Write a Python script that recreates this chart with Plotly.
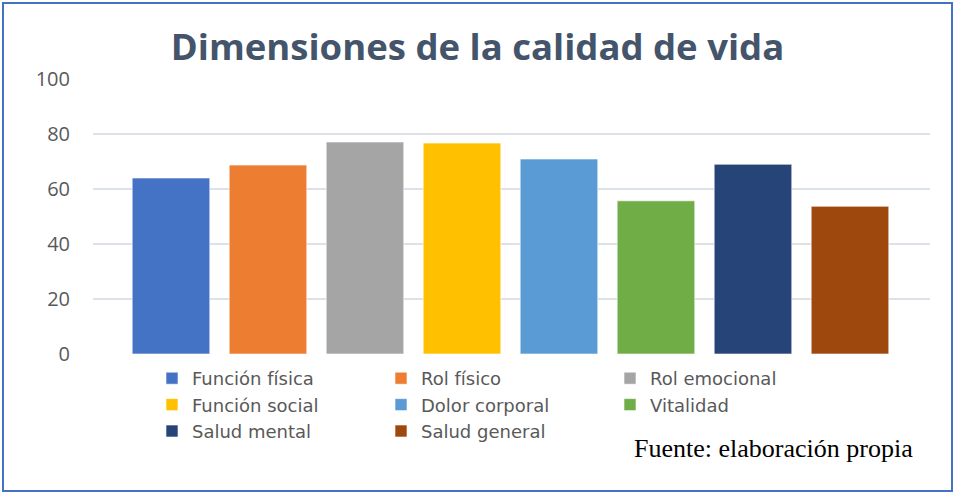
import plotly.graph_objects as go

# dimensiones de calidad de vida (SF-36)
dimensiones = ['Función física', 'Rol físico', 'Rol emocional', 'Función social',
               'Dolor corporal', 'Vitalidad', 'Salud mental', 'Salud general']
puntajes = [64, 68.7, 77.1, 76.7, 70.9, 55.7, 69, 53.7]
colores = ['#4472C4', '#ED7D31', '#A5A5A5', '#FFC000',
           '#5B9BD5', '#70AD47', '#264478', '#9E480E']
y_ticks = [0, 20, 40, 60, 80, 100]

W, H = 955, 494
ml, mr, mt, mb = 93, 25, 79, 140
pw, ph = W - ml - mr, H - mt - mb

fig = go.Figure()
for nombre, valor, col in zip(dimensiones, puntajes, colores):
    fig.add_trace(go.Bar(x=[nombre], y=[valor], name=nombre,
                         marker=dict(color=col, line=dict(color='rgba(255,255,255,0.6)', width=1)),
                         width=0.8))

fig.update_layout(
    width=W, height=H,
    margin=dict(l=ml, r=mr, t=mt, b=mb, autoexpand=False),
    paper_bgcolor='white', plot_bgcolor='white',
    barmode='overlay',
    title=dict(text='<b>Dimensiones de la calidad de vida</b>', x=0.5, xanchor='center',
               y=1 - 47 / H, yanchor='middle',
               font=dict(family='Open Sans', size=36.5, color='#44546A')),
    legend=dict(orientation='h', x=(152 - ml) / pw, xanchor='left',
                y=-6 / ph, yanchor='top',
                font=dict(family='DejaVu Sans', size=18, color='#595959'),
                entrywidth=184, entrywidthmode='pixels', tracegroupgap=0,
                itemwidth=30, bgcolor='rgba(0,0,0,0)'),
    font=dict(family='Open Sans'),
)
fig.update_xaxes(showticklabels=False, showgrid=False, zeroline=False, showline=False,
                 range=[-0.804, 7.825])
fig.update_yaxes(range=[0, 100], tickvals=y_ticks, showgrid=True, gridcolor='#DDE1E8',
                 gridwidth=2, zeroline=False, showline=False, ticks='',
                 tickfont=dict(family='Open Sans', size=20, color='#595959'), ticklabelstandoff=22)

# marco azul alrededor de la imagen
fig.add_shape(type='rect', xref='paper', yref='paper',
              x0=(3 - ml) / pw, x1=(952 - ml) / pw,
              y0=(mt + ph - 491) / ph, y1=(mt + ph - 3) / ph,
              line=dict(color='#4472C4', width=2), fillcolor='rgba(0,0,0,0)', layer='above')

fig.add_annotation(text='Fuente: elaboración propia', xref='paper', yref='paper',
                   x=(915 - ml) / pw, xanchor='right', y=(mt + ph - 448) / ph, yanchor='middle',
                   showarrow=False, font=dict(family='Liberation Serif', size=26, color='black'))

# sin margen del body para que la figura empiece en (0,0)
fig.write_html('out.html', config={'displayModeBar': False},
               post_script="document.body.style.margin='0';")
